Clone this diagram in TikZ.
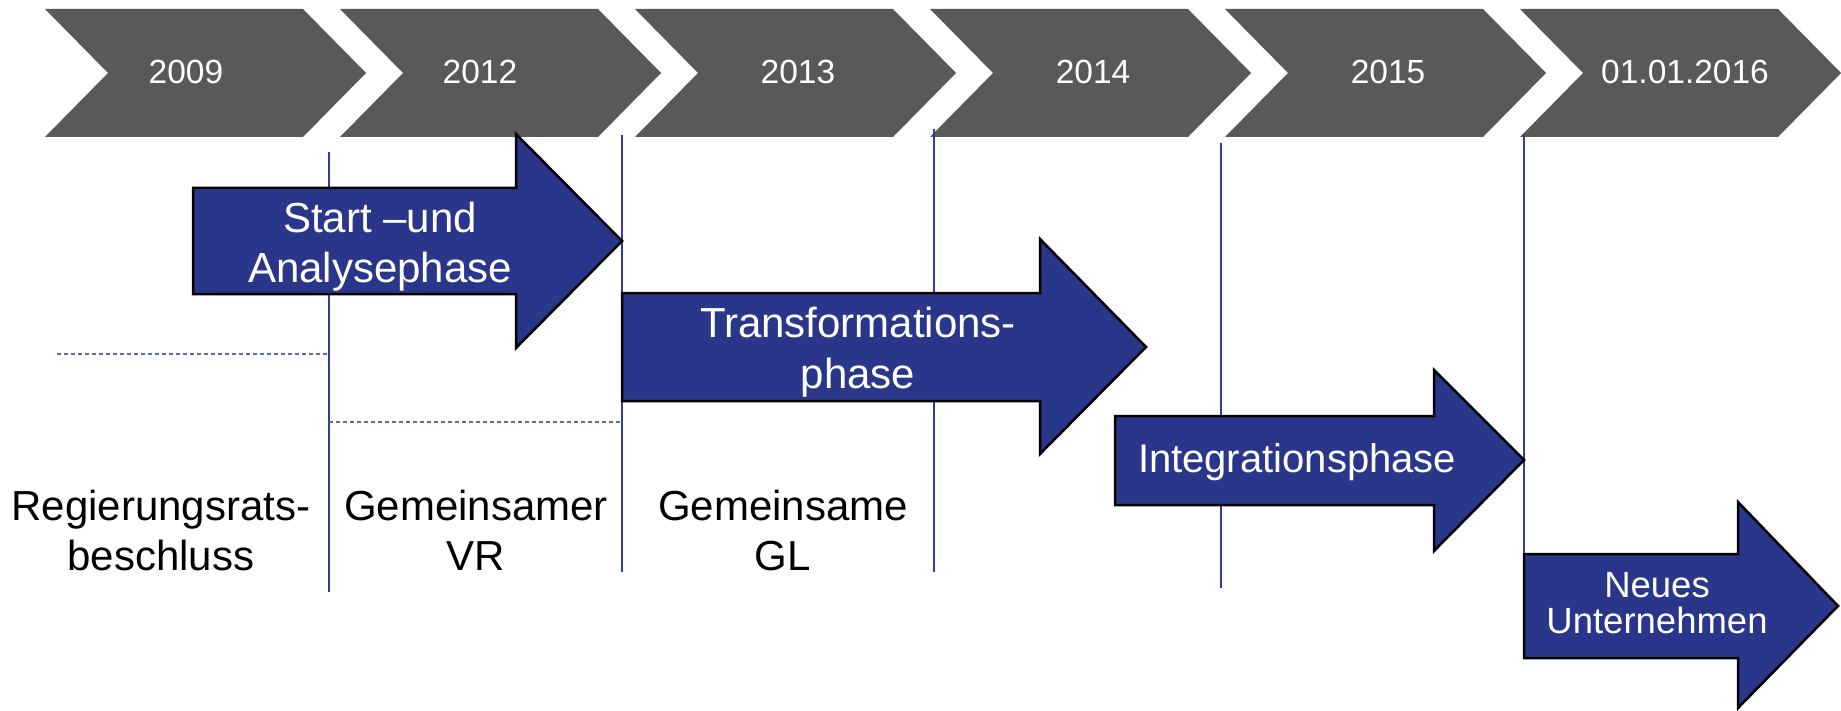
\documentclass[tikz,border=0pt]{standalone}
\usepackage{fontspec}
\setmainfont{Liberation Sans}
\definecolor{chevgray}{HTML}{595959}
\definecolor{phaseblue}{RGB}{41,54,138}
\definecolor{vlinecol}{RGB}{50,60,160}
\definecolor{dlinecol}{RGB}{95,102,180}
\begin{document}
\begin{tikzpicture}[x=1pt,y=-1pt,
  chevshape/.style={fill=chevgray,draw=none},
  phaseshape/.style={fill=phaseblue,draw=black,line width=2.5pt,miter limit=10},
  chevtxt/.style={text=white,font=\fontsize{33.5}{40}\selectfont,anchor=base,inner sep=0pt},
  phasetxt/.style={text=white,font=\fontsize{42}{50}\selectfont,anchor=base,inner sep=0pt},
  smalltxt/.style={text=white,font=\fontsize{36.5}{40}\selectfont,anchor=base,inner sep=0pt},
  lbltxt/.style={text=black,font=\fontsize{42}{50}\selectfont,anchor=base,inner sep=0pt},
  vrule/.style={draw=vlinecol,line width=1.2pt},
  drule/.style={draw=dlinecol,line width=1.2pt,dash pattern=on 4pt off 3pt}]
\useasboundingbox (0,0) rectangle (1841,711);
\fill[white] (0,0) rectangle (1841,711);

% chevrons
\foreach \i/\t/\cx in {0/2009/186,1/2012/480,2/2013/798,3/2014/1093,4/2015/1388,5/01.01.2016/1685} {
  \pgfmathsetmacro\L{45+295*\i}
  \fill[chevshape] (\L,9) -- ++(258,0) -- ++(63,64) -- ++(-63,64) -- ++(-258,0) -- ++(63,-64) -- cycle;
  \node[chevtxt] (year\i) at (\cx,84) {\t};
}

% vertical lines
\coordinate (v1t) at (329,152); \coordinate (v1b) at (329,592);
\coordinate (v2t) at (622,135); \coordinate (v2b) at (622,572);
\coordinate (v3t) at (934,129); \coordinate (v3b) at (934,572);
\coordinate (v4t) at (1221,143); \coordinate (v4b) at (1221,588);
\coordinate (v5t) at (1524,135); \coordinate (v5b) at (1524,554);
\draw[vrule] (v1t) -- (v1b);
\draw[vrule] (v2t) -- (v2b);
\draw[vrule] (v3t) -- (v3b);
\draw[vrule] (v4t) -- (v4b);
\draw[vrule] (v5t) -- (v5b);

% dashed lines
\coordinate (d1a) at (57,354); \coordinate (d1b) at (329,354);
\coordinate (d2a) at (329,422); \coordinate (d2b) at (622,422);
\draw[drule] (d1a) -- (d1b);
\draw[drule] (d2a) -- (d2b);

% phase arrows
\draw[phaseshape] (193,188) -- (516,188) -- (516,134) -- (622,241) -- (516,348) -- (516,294) -- (193,294) -- cycle;
\draw[phaseshape] (622,293) -- (1040,293) -- (1040,239) -- (1146,347) -- (1040,454) -- (1040,401) -- (622,401) -- cycle;
\draw[phaseshape] (1115,416) -- (1434,416) -- (1434,370) -- (1524,460) -- (1434,551) -- (1434,505) -- (1115,505) -- cycle;
\draw[phaseshape] (1524,554) -- (1738,554) -- (1738,502) -- (1838,606) -- (1738,708) -- (1738,658) -- (1524,658) -- cycle;

% phase texts
\node[phasetxt] (p1a) at (380,233) {Start –und};
\node[phasetxt] (p1b) at (380,283) {Analysephase};
\node[phasetxt] (p2a) at (858,337) {Transformations-};
\node[phasetxt] (p2b) at (858,388) {phase};
\node[phasetxt,font=\fontsize{40}{48}\selectfont] (p3) at (1297,472) {Integrationsphase};
\node[smalltxt] (p4a) at (1657,597) {Neues};
\node[smalltxt] (p4b) at (1657,633) {Unternehmen};

% bottom labels
\node[lbltxt] (l1a) at (161,520) {Regierungsrats-};
\node[lbltxt] (l1b) at (161,570) {beschluss};
\node[lbltxt] (l2a) at (476,520) {Gemeinsamer};
\node[lbltxt] (l2b) at (476,570) {VR};
\node[lbltxt] (l3a) at (783,520) {Gemeinsame};
\node[lbltxt] (l3b) at (783,570) {GL};
\end{tikzpicture}
\end{document}
